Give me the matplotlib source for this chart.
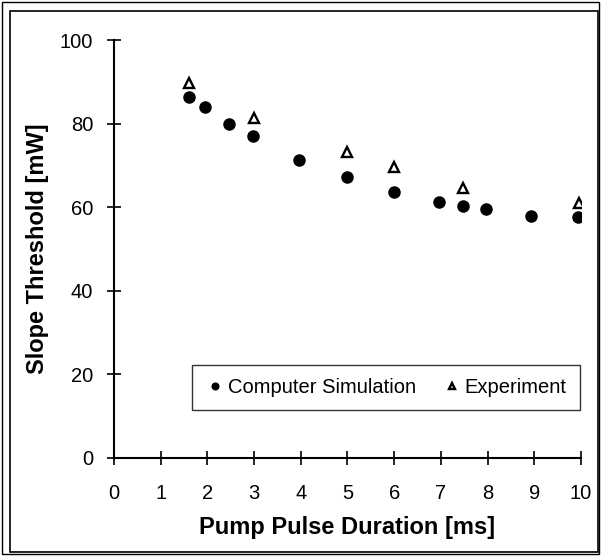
#Slope threshold vs pump pulse duration
import matplotlib.pyplot as plt
from matplotlib.patches import Rectangle

plt.rcParams['font.family'] = ['Liberation Sans', 'DejaVu Sans']

#Computer simulation points
simX = [1.6, 1.95, 2.47, 2.98, 3.97, 4.98, 6.0, 6.97, 7.47, 7.97, 8.94, 9.94]
simY = [86.4, 84.0, 79.8, 77.0, 71.3, 67.3, 63.6, 61.2, 60.4, 59.6, 58.0, 57.6]

#Experiment points
expX = [1.6, 3.0, 4.98, 6.0, 7.47, 9.96]
expY = [89.6, 81.4, 73.1, 69.7, 64.7, 60.9]

xTicks = list(range(0, 11))
yTicks = [0, 20, 40, 60, 80, 100]

fig = plt.figure(figsize=(6.01, 5.56), dpi=100)
ax = fig.add_axes([0.1897, 0.1763, 0.777, 0.7517])

ax.plot(simX, simY, 'o', color='black', markersize=8, label='Computer Simulation')
ax.plot(expX, expY, '^', color='black', markerfacecolor='white', markersize=7,
        markeredgewidth=1.7, label='Experiment')

ax.set_xlim(0, 10)
ax.set_ylim(0, 100)
ax.set_xticks(xTicks)
ax.set_yticks(yTicks)
ax.tick_params(direction='inout', length=10, width=1.2, labelsize=14.5)
ax.tick_params(axis='x', pad=14)
ax.tick_params(axis='y', pad=10)
for s in ['top', 'right']:
    ax.spines[s].set_visible(False)
ax.spines['left'].set_linewidth(1.5)
ax.spines['bottom'].set_linewidth(1.5)

ax.set_xlabel("Pump Pulse Duration [ms]", fontsize=17, fontweight='bold', labelpad=9)
ax.set_ylabel("Slope Threshold [mW]", fontsize=17, fontweight='bold', labelpad=8)

leg = ax.legend(loc='lower left', bbox_to_anchor=(0.167, 0.115), ncol=2,
                fontsize=14.5, markerscale=0.6, frameon=True, fancybox=False,
                edgecolor='black', handletextpad=0.15, columnspacing=1.25,
                borderpad=0.65, handlelength=1.0, borderaxespad=0)
leg.get_frame().set_linewidth(1.0)

#Double border around the figure
fig.patches.append(Rectangle((0.004, 0.004), 0.992, 0.992, transform=fig.transFigure,
                             fill=False, edgecolor='black', linewidth=1.0))
fig.patches.append(Rectangle((0.017, 0.007), 0.978, 0.973, transform=fig.transFigure,
                             fill=False, edgecolor='black', linewidth=1.2))

fig.savefig('out.png', dpi=100)
